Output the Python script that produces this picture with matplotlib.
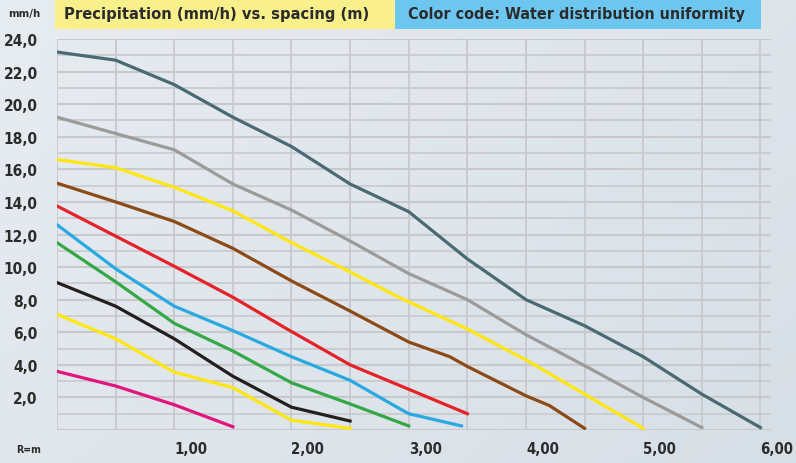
import numpy as np
import matplotlib
matplotlib.use("Agg")
import matplotlib.pyplot as plt
from matplotlib.patches import Rectangle
from matplotlib import font_manager

# look for a condensed bold face, the reference uses a narrow bold font
cond = [f for f in font_manager.fontManager.ttflist
        if ('Condensed' in f.fname or 'Narrow' in f.fname)
        and 'Bold' in f.fname and 'Oblique' not in f.fname and 'Italic' not in f.fname]
cond.sort(key=lambda f: ('DejaVu' not in f.fname, f.fname))
if cond:
    FP = font_manager.FontProperties(fname=cond[0].fname)
else:
    FP = font_manager.FontProperties(family='DejaVu Sans', weight='bold', stretch='condensed')

# spacing (m) vs precipitation (mm/h), one curve per uniformity colour
x_dark = [0, 0.5, 1, 1.5, 2, 2.5, 3, 3.5, 4, 4.5, 5, 5.5, 6]
y_dark = [23.2, 22.7, 21.2, 19.2, 17.4, 15.1, 13.4, 10.5, 8.0, 6.4, 4.5, 2.2, 0.15]

x_gray = [0, 0.5, 1, 1.5, 2, 2.5, 3, 3.5, 4, 4.5, 5, 5.5]
y_gray = [19.2, 18.2, 17.2, 15.1, 13.5, 11.6, 9.6, 8.0, 5.85, 3.95, 2.0, 0.15]

x_yel1 = [0, 0.5, 1, 1.5, 2, 2.5, 2.9, 3.5, 4, 4.5, 5]
y_yel1 = [16.6, 16.1, 14.9, 13.45, 11.5, 9.7, 8.2, 6.2, 4.3, 2.2, 0.1]

x_brown = [0, 0.5, 1, 1.5, 2, 2.5, 3, 3.35, 3.5, 4, 4.2, 4.5]
y_brown = [15.15, 14.0, 12.8, 11.15, 9.15, 7.3, 5.4, 4.5, 3.9, 2.1, 1.5, 0.1]

x_red = [0, 0.5, 1, 1.5, 1.95, 2.5, 3, 3.5]
y_red = [13.75, 11.9, 10.05, 8.15, 6.25, 4.0, 2.5, 1.0]

x_blue = [0, 0.5, 1, 1.5, 2, 2.5, 2.9, 3.0, 3.45]
y_blue = [12.6, 9.9, 7.6, 6.1, 4.5, 3.05, 1.4, 1.0, 0.25]

x_green = [0, 0.5, 1, 1.5, 2, 2.5, 3]
y_green = [11.5, 9.1, 6.55, 4.85, 2.9, 1.6, 0.25]

x_black = [0, 0.5, 1, 1.5, 2, 2.5]
y_black = [9.05, 7.6, 5.6, 3.3, 1.4, 0.55]

x_yel2 = [0, 0.5, 1, 1.5, 2, 2.5]
y_yel2 = [7.1, 5.6, 3.55, 2.6, 0.6, 0.1]

x_mag = [0, 0.5, 1, 1.5]
y_mag = [3.6, 2.7, 1.55, 0.2]

x_ticks = [1, 2, 3, 4, 5, 6]
x_labels = ['1,00', '2,00', '3,00', '4,00', '5,00', '6,00']
y_ticks = list(range(2, 25, 2))
y_labels = ['%d,0' % v for v in y_ticks]

title_left = 'Precipitation (mm/h) vs. spacing (m)'
title_right = 'Color code: Water distribution uniformity'

W, H = 796, 464
fig = plt.figure(figsize=(W / 100, H / 100), dpi=100)
renderer = fig.canvas.get_renderer()


def fit(t, target_px, maxsize):
    # shrink a text until it is about target_px wide
    t.set_fontsize(maxsize)
    w = t.get_window_extent(renderer).width
    if w > target_px:
        t.set_fontsize(maxsize * target_px / w)
    return t.get_fontsize()


# soft background gradient
bg = fig.add_axes([0, 0, 1, 1], zorder=-5)
grad = np.outer(np.ones(50), np.linspace(0, 1, 200)) * 0.6 + \
    np.outer(np.linspace(0, 1, 50), np.ones(200)) * 0.4
bg.imshow(grad, cmap=matplotlib.colors.LinearSegmentedColormap.from_list('bg', ['#e7ecf1', '#d7dfe6']),
          aspect='auto', extent=[0, 1, 0, 1], origin='upper')
bg.axis('off')

ax = fig.add_axes([57 / W, 1 - 431 / H, (771 - 57) / W, (431 - 40) / H])
ax.set_facecolor('none')
ax.set_xlim(0, 6.09)
ax.set_ylim(0, 24)

gx = np.arange(0, 6.01, 0.5)
gy = np.arange(0, 24.01, 1)
for v in gx:
    ax.axvline(v, color='#c8c9cc', lw=1.3, zorder=0)
for v in gy:
    ax.axhline(v, color='#c8c9cc', lw=1.5 if v % 2 == 0 else 1.2, zorder=0)

ax.set_xticks(x_ticks)
ax.set_xticklabels(x_labels, ha='left', color='#2b2b2b', fontproperties=FP)
ax.set_yticks(y_ticks)
ax.set_yticklabels(y_labels, color='#2b2b2b', fontproperties=FP)
ax.tick_params(which='both', length=0)
ax.tick_params(axis='x', pad=8)
ax.tick_params(axis='y', pad=14)
for s in ax.spines.values():
    s.set_visible(False)

size_x = fit(ax.get_xticklabels()[0], 33, 15)
for t in ax.get_xticklabels():
    t.set_fontsize(size_x)
size_y = fit(ax.get_yticklabels()[-1], 34, 15)
for t in ax.get_yticklabels():
    t.set_fontsize(size_y)

lw = 2.3
ax.plot(x_dark, y_dark, color='#4a6a72', lw=lw)
ax.plot(x_gray, y_gray, color='#9b9b9b', lw=lw)
ax.plot(x_yel1, y_yel1, color='#ffe60f', lw=lw)
ax.plot(x_brown, y_brown, color='#8c4a17', lw=lw)
ax.plot(x_red, y_red, color='#e5222a', lw=lw)
ax.plot(x_blue, y_blue, color='#28a9e1', lw=lw)
ax.plot(x_green, y_green, color='#34a846', lw=lw)
ax.plot(x_black, y_black, color='#231f20', lw=lw)
ax.plot(x_yel2, y_yel2, color='#ffe60f', lw=lw)
ax.plot(x_mag, y_mag, color='#e2147d', lw=lw)

# header boxes
fig.patches.append(Rectangle((55 / W, 1 - 30 / H), 340 / W, 30 / H, transform=fig.transFigure,
                             facecolor='#f9f08c', edgecolor='none'))
fig.patches.append(Rectangle((395 / W, 1 - 30 / H), 366 / W, 30 / H, transform=fig.transFigure,
                             facecolor='#6dc6f0', edgecolor='none'))
t1 = fig.text(64 / W, 1 - 14 / H, title_left, color='#2b2b2b', va='center', ha='left', fontproperties=FP)
t2 = fig.text(408 / W, 1 - 14 / H, title_right, color='#2b2b2b', va='center', ha='left', fontproperties=FP)
fit(t1, 305, 16)
fit(t2, 335, 16)

t3 = fig.text(8 / W, 1 - 14 / H, 'mm/h', color='#2b2b2b', va='center', ha='left', fontproperties=FP)
t4 = fig.text(16 / W, 1 - 450 / H, 'R=m', color='#2b2b2b', va='center', ha='left', fontproperties=FP)
fit(t3, 32, 11)
fit(t4, 25, 11)

fig.savefig('out.png', dpi=100)
